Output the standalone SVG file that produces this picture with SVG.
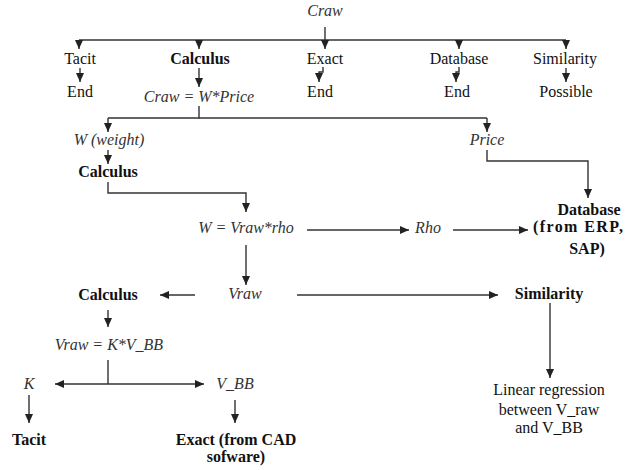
<svg xmlns="http://www.w3.org/2000/svg" width="625" height="470" viewBox="0 0 625 470">
<defs>
<marker id="ah" markerUnits="userSpaceOnUse" markerWidth="9" markerHeight="8" refX="9" refY="4" orient="auto">
<path d="M0,0 L9,4 L0,8 z" fill="#222"/>
</marker>
<style>
text{font-size:16px;fill:#111;text-anchor:middle}
.i{font-style:italic;fill:#333}
.b{font-weight:bold}
.c path{fill:none;stroke:#333;stroke-width:1.4}
.a{marker-end:url(#ah)}
</style>
</defs>
<rect width="625" height="470" fill="#fff"/>
<g class="c" id="connectors">
<path d="M79,40 H566"/>
<path class="a" d="M325,27 V49"/>
<path class="a" d="M79,40 V49"/>
<path class="a" d="M199,40 V49"/>
<path class="a" d="M459,40 V49"/>
<path class="a" d="M566,40 V49"/>
<path class="a" d="M80,68 V82"/>
<path class="a" d="M323,67 V72 H319 V82"/>
<path class="a" d="M459,67 V72 H456 V82"/>
<path class="a" d="M566,68 V82"/>
<path class="a" d="M199,68 V87"/>
<path d="M199,106 V118 H108"/>
<path d="M199,118 H487"/>
<path class="a" d="M108,118 V132"/>
<path class="a" d="M487,118 V132"/>
<path class="a" d="M108,150 V164"/>
<path class="a" d="M487,150 V161 H588 V198"/>
<path class="a" d="M108,182 V193 H246 V212"/>
<path class="a" d="M307,230 H409"/>
<path class="a" d="M453,230 H528"/>
<path class="a" d="M246,245 V285"/>
<path class="a" d="M195,295 H160"/>
<path class="a" d="M297,295 H498"/>
<path class="a" d="M550,303 V378"/>
<path class="a" d="M108,310 V327"/>
<path d="M108,360 V384"/>
<path class="a" d="M108,384 H55"/>
<path class="a" d="M108,384 H204"/>
<path class="a" d="M29,395 V423"/>
<path class="a" d="M235,400 V423"/>
</g>
<g font-family="Liberation Serif, Times New Roman, DejaVu Serif, serif">
<g id="n-craw"><text class="i" x="325" y="16">Craw</text></g>
<g id="n-tacit1"><text x="80" y="64">Tacit</text></g>
<g id="n-calc1"><text class="b" x="200" y="64">Calculus</text></g>
<g id="n-exact1"><text x="325" y="64">Exact</text></g>
<g id="n-db1"><text x="459" y="64">Database</text></g>
<g id="n-sim1"><text x="565" y="64">Similarity</text></g>
<g id="n-end1"><text x="80" y="96.5">End</text></g>
<g id="n-end2"><text x="320" y="96.5">End</text></g>
<g id="n-end3"><text x="457" y="96.5">End</text></g>
<g id="n-possible"><text x="566" y="96.5">Possible</text></g>
<g id="n-crawf"><text class="i" x="199" y="102">Craw = W*Price</text></g>
<g id="n-w"><text class="i" x="109" y="145">W (weight)</text></g>
<g id="n-price"><text class="i" x="487" y="145">Price</text></g>
<g id="n-calc2"><text class="b" x="108" y="177">Calculus</text></g>
<g id="n-wf"><text class="i" x="246" y="233">W = Vraw*rho</text></g>
<g id="n-rho"><text class="i" x="428" y="233">Rho</text></g>
<g id="n-db2"><text class="b" x="589" y="215">Database</text><text class="b" x="533" y="232" style="text-anchor:start;letter-spacing:1.4px">(from ERP,</text><text class="b" x="587" y="254">SAP)</text></g>
<g id="n-vraw"><text class="i" x="245" y="299">Vraw</text></g>
<g id="n-calc3"><text class="b" x="108" y="300">Calculus</text></g>
<g id="n-sim2"><text class="b" x="549" y="299">Similarity</text></g>
<g id="n-vrawf"><text class="i" x="109" y="350">Vraw = K*V_BB</text></g>
<g id="n-k"><text class="i" x="29" y="389">K</text></g>
<g id="n-vbb"><text class="i" x="235" y="389">V_BB</text></g>
<g id="n-tacit2"><text class="b" x="29" y="445">Tacit</text></g>
<g id="n-exact2"><text class="b" x="236" y="445">Exact (from CAD</text><text class="b" x="236" y="462">sofware)</text></g>
<g id="n-lr"><text x="549" y="395">Linear regression</text><text x="549" y="415">between V_raw</text><text x="549" y="433">and V_BB</text></g>
</g>
</svg>
